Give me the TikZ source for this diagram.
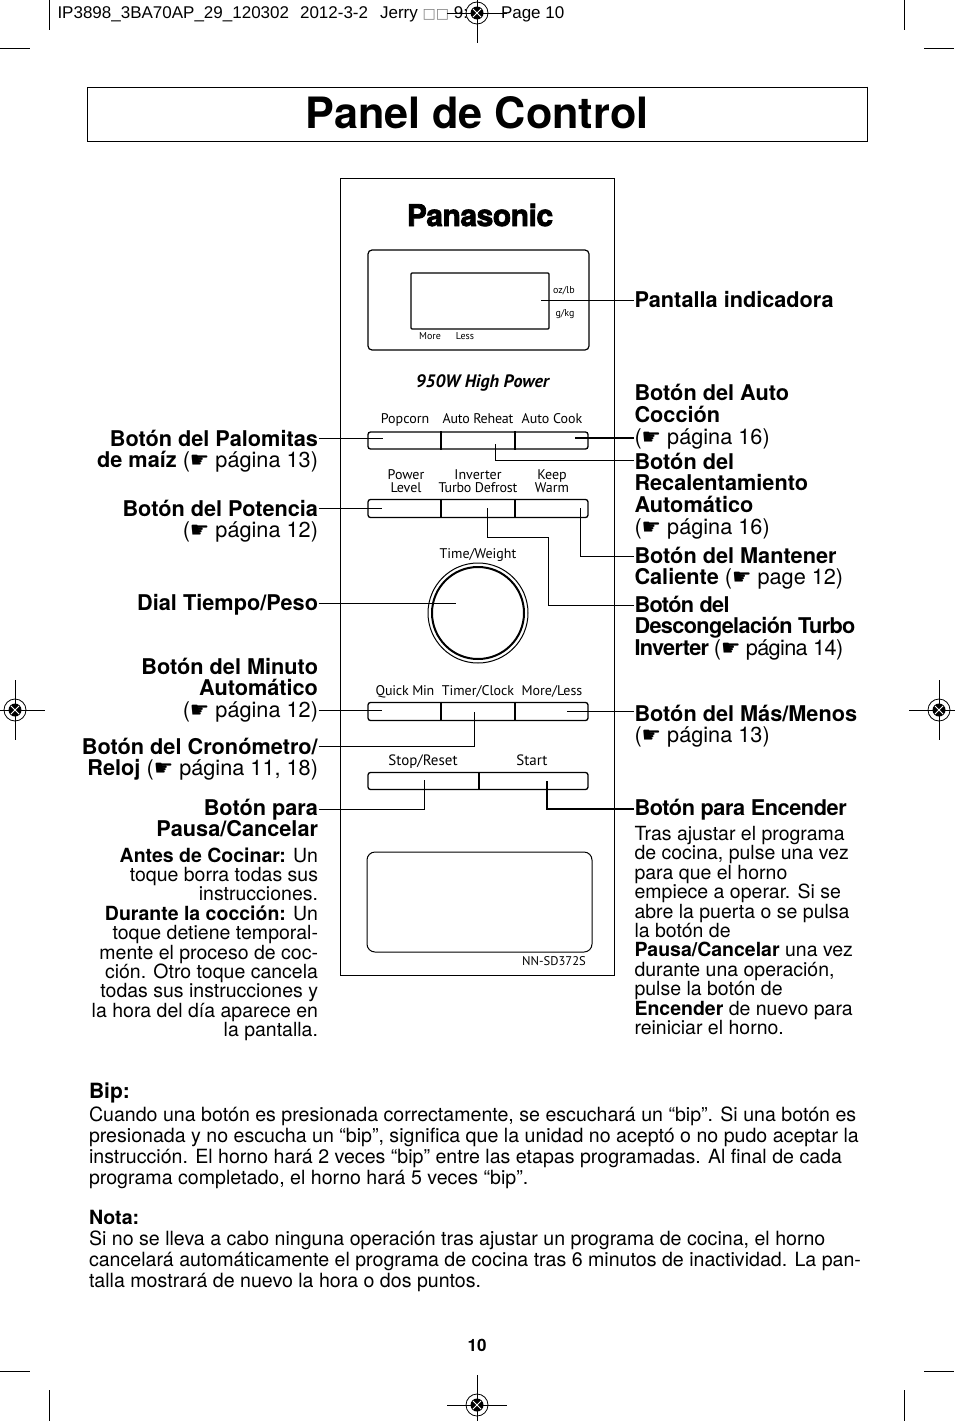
\documentclass[tikz,border=0pt]{standalone}
\usepackage{fontspec}
\setmainfont{TeX Gyre Heros}
\newfontfamily\symfont{DejaVu Sans}
\newfontfamily\panelfont{PT Sans}
\newfontfamily\headfont{Liberation Sans}
\newcommand{\hand}{{\symfont ☛}}
\newcommand{\tightfont}{\addfontfeature{LetterSpace=-2}}
\newcommand{\tighterfont}{\addfontfeature{LetterSpace=-3}}
\newcommand{\slimfont}{\addfontfeature{LetterSpace=-1.5}}
\tikzset{
 regmark/.pic={
  \draw[line width=.8pt] (-30,0)--(30,0) (0,-30)--(0,30);
  \draw[line width=.8pt] (0,0) circle (11);
  \fill (0,0) circle (6.5);
  \draw[white,line width=1pt] (-4,-4)--(4,4) (-4,4)--(4,-4);
 }}
\begin{document}
\begin{tikzpicture}[x=1pt,y=-1pt,line width=1pt,
 lblright/.style={anchor=base west,inner sep=0pt,align=left,font=\fontsize{21.7}{21.7}\selectfont},
 lblleft/.style={anchor=base east,inner sep=0pt,align=right,font=\fontsize{21.7}{21.7}\selectfont},
 bodyright/.style={anchor=base west,inner sep=0pt,align=left,font=\fontsize{19.5}{19.4}\selectfont},
 bodyleft/.style={anchor=base east,inner sep=0pt,align=right,font=\fontsize{19.5}{19.4}\selectfont},
 note/.style={anchor=base west,inner sep=0pt,align=left,font=\fontsize{19.6}{21}\selectfont},
 paneltxt/.style={inner sep=0pt,align=center,font=\panelfont\fontsize{14}{13}\selectfont},
 smalltxt/.style={inner sep=0pt,font=\panelfont\fontsize{10}{10}\selectfont},
 btnrow/.style={draw,rounded corners=2.5pt,line width=1.3pt,minimum width=220pt,inner sep=0pt},
 divider/.style={line width=2pt},
 lead/.style={line width=1pt},
 leadthick/.style={line width=1.6pt}]
\useasboundingbox (0,0) rectangle (954,1421);
% crop marks
\draw (49,0)--(49,30) (0,49)--(30,49) (904,0)--(904,30) (924,49)--(954,49);
\draw (49,1390)--(49,1421) (0,1371)--(30,1371) (904,1390)--(904,1421) (924,1371)--(954,1371);
\node[anchor=base west,inner sep=0pt,font=\headfont\fontsize{17}{17}\selectfont] (slug) at (57,19)
 {IP3898\_3BA70AP\_29\_120302\hspace{11pt}2012-3-2\hspace{12pt}Jerry {\color{gray}\symfont\fontsize{14}{14}\selectfont □□} 9:\hspace{33pt}Page 10};
\pic at (477,13) {regmark};
\pic at (477,1405) {regmark};
\pic at (15,710) {regmark};
\pic at (939,710) {regmark};
% title
\node[draw,inner sep=0pt,minimum width=780pt,minimum height=54pt,text depth=4pt,font=\bfseries\fontsize{43.2}{44}\selectfont] (title) at (477,114) {Panel de Control};
\draw[line width=1.6pt] (title.north east)--(title.south east);
% panel
\node[draw,inner sep=0pt,minimum width=274pt,minimum height=797pt] (panel) at (477,576.5) {};
\node[inner sep=0pt,font=\bfseries\fontsize{30}{30}\selectfont\addfontfeature{FakeBold=2.5,LetterSpace=-1.5}] (brand) at (480,215) {Panasonic};
\node[draw,rounded corners=4pt,line width=1.2pt,inner sep=0pt,minimum width=221pt,minimum height=100pt] (dispbox) at (478.5,300) {};
\node[draw,rounded corners=1pt,line width=1.2pt,inner sep=0pt,minimum width=138pt,minimum height=56pt] (screen) at (480,301) {};
\node[smalltxt] (ozlb) at (564,290.5) {oz/lb};
\node[smalltxt] (gkg) at (565,313.5) {g/kg};
\node[smalltxt] (more) at (430,336.5) {More};
\node[smalltxt] (less) at (465,336.5) {Less};
\node[inner sep=0pt,font=\panelfont\bfseries\itshape\fontsize{18}{18}\selectfont] (power) at (482.5,382.5) {950W High Power};
% button rows
\node[btnrow,minimum height=17pt] (row1) at (478,440.5) {};
\draw[divider] (441,0 |- row1.north)--(441,0 |- row1.south) (515,0 |- row1.north)--(515,0 |- row1.south);
\node[paneltxt] (popcorn) at (405,419.5) {Popcorn};
\node[paneltxt] (reheat) at (478,419) {\slimfont Auto Reheat};
\node[paneltxt] (cook) at (552,419) {Auto Cook};
\node[btnrow,minimum height=18pt] (row2) at (478,508.5) {};
\draw[divider] (441,0 |- row2.north)--(441,0 |- row2.south) (515,0 |- row2.north)--(515,0 |- row2.south);
\node[paneltxt] (powerlevel) at (406,481.5) {Power\\Level};
\node[paneltxt] (defrost) at (478,481.5) {Inverter\\\slimfont Turbo Defrost};
\node[paneltxt] (keepwarm) at (552,481.5) {Keep\\Warm};
\node[paneltxt] (timeweight) at (478,554.5) {Time/Weight};
\node[draw,circle,inner sep=0pt,minimum size=100pt] (dialout) at (478,613) {};
\node[draw,circle,inner sep=0pt,line width=2pt,minimum size=92pt] (dial) at (478,613) {};
\node[btnrow,minimum height=18pt] (row3) at (478,711.5) {};
\draw[divider] (441,0 |- row3.north)--(441,0 |- row3.south) (515,0 |- row3.north)--(515,0 |- row3.south);
\node[paneltxt] (quickmin) at (405,691.5) {\slimfont Quick Min};
\node[paneltxt] (timerclock) at (478,691.5) {Timer/Clock};
\node[paneltxt] (moreless) at (552,691.5) {More/Less};
\node[btnrow,minimum height=17pt] (row4) at (478,781) {};
\draw[divider] (479,0 |- row4.north)--(479,0 |- row4.south);
\node[paneltxt,font=\panelfont\fontsize{15}{15}\selectfont] (stopreset) at (423,761.5) {Stop/Reset};
\node[paneltxt,font=\panelfont\fontsize{15}{15}\selectfont] (start) at (532,760) {Start};
\node[draw,rounded corners=8pt,inner sep=0pt,minimum width=225pt,minimum height=100pt] (door) at (479.5,902) {};
\node[inner sep=0pt,font=\panelfont\fontsize{12.6}{12}\selectfont] (model) at (554,961) {NN-SD372S};
% labels on the right
\node[lblright] (lblscreen) at (634,307) {\textbf{Pantalla indicadora}};
\node[lblright] (lblcook) at (634,444) {\textbf{Botón del Auto}\\\textbf{Cocción}\\(\hand{} página 16)};
\node[lblright] (lblheat) at (634,534.1) {\textbf{Botón del}\\\textbf{Recalentamiento}\\\textbf{Automático}\\(\hand{} página 16)};
\node[lblright] (lblwarm) at (634,584.7) {\textbf{Botón del Mantener}\\\textbf{Caliente} (\hand{} page 12)};
\node[lblright] (lblturbo) at (634,655.4) {\tighterfont\textbf{Botón del}\\\tighterfont\textbf{Descongelación Turbo}\\\tighterfont\textbf{Inverter} (\hand{} página 14)};
\node[lblright] (lblmore) at (634,742.7) {\textbf{Botón del Más/Menos}\\(\hand{} página 13)};
\node[lblright] (lblstart) at (634,815) {\tightfont\textbf{Botón para Encender}};
\node[bodyright] (txtstart) at (634,1034.5) {Tras ajustar el programa\\de cocina, pulse una vez\\para que el horno\\empiece a operar. Si se\\abre la puerta o se pulsa\\la botón de\\\textbf{Pausa/Cancelar} una vez\\durante una operación,\\pulse la botón de\\\textbf{Encender} de nuevo para\\reiniciar el horno.};
% labels on the left
\node[lblleft] (lblpop) at (318.5,467.7) {\textbf{Botón del Palomitas}\\\textbf{de maíz} (\hand{} página 13)};
\node[lblleft] (lblpower) at (318.5,537.7) {\textbf{Botón del Potencia}\\(\hand{} página 12)};
\node[lblleft] (lbldial) at (318.5,610) {\textbf{Dial Tiempo/Peso}};
\node[lblleft] (lblquick) at (318.5,717.4) {\textbf{Botón del Minuto}\\\textbf{Automático}\\(\hand{} página 12)};
\node[lblleft] (lblclock) at (318.5,775.7) {\textbf{Botón del Cronómetro/}\\\textbf{Reloj} (\hand{} página 11, 18)};
\node[lblleft] (lblstop) at (318.5,836.7) {\textbf{Botón para}\\\textbf{Pausa/Cancelar}};
\node[bodyleft] (txtstop) at (318.5,1036.6) {\textbf{Antes de Cocinar:} Un\\toque borra todas sus\\instrucciones.\\\textbf{Durante la cocción:} Un\\toque detiene temporal-\\mente el proceso de coc-\\ción. Otro toque cancela\\todas sus instrucciones y\\la hora del día aparece en\\la pantalla.};
% notes
\node[note] (bipnote) at (88.5,1184) {{\bfseries\fontsize{21}{21}\selectfont Bip:}\\[2pt]Cuando una botón es presionada correctamente, se escuchará un “bip”. Si una botón es\\presionada y no escucha un “bip”, significa que la unidad no aceptó o no pudo aceptar la\\instrucción. El horno hará 2 veces “bip” entre las etapas programadas. Al final de cada\\programa completado, el horno hará 5 veces “bip”.};
\node[note] (notanote) at (88.5,1287.5) {\textbf{Nota:}\\Si no se lleva a cabo ninguna operación tras ajustar un programa de cocina, el horno\\cancelará automáticamente el programa de cocina tras 6 minutos de inactividad. La pan-\\talla mostrará de nuevo la hora o dos puntos.};
\node[inner sep=0pt,font=\bfseries\fontsize{17}{17}\selectfont] (pagenum) at (477,1345) {10};
% connector ends
\coordinate (ptscreen) at (541,300);
\coordinate (ptcook) at (575,438);
\coordinate (ptheat) at (495,444);
\coordinate (kneeheat) at (495,460);
\coordinate (ptwarm) at (580,508);
\coordinate (kneewarm) at (580,556);
\coordinate (ptturbo) at (487,508);
\coordinate (kneeturboa) at (487,537);
\coordinate (kneeturbob) at (548,537);
\coordinate (kneeturboc) at (548,605);
\coordinate (ptmore) at (567,711);
\coordinate (ptstart) at (547,781);
\coordinate (kneestart) at (547,809);
\coordinate (ptpop) at (383,438);
\coordinate (ptpower) at (382,508);
\coordinate (ptdial) at (456,603);
\coordinate (ptquick) at (382,710);
\coordinate (ptclock) at (474,712);
\coordinate (kneeclock) at (474,746);
\coordinate (ptstop) at (424,780);
\coordinate (kneestop) at (424,809);
% connectors
\draw[lead] (lblscreen.west |- ptscreen)--(ptscreen);
\draw[leadthick] (lblcook.west |- ptcook)--(ptcook);
\draw[lead] (lblheat.west |- kneeheat)--(kneeheat)--(ptheat);
\draw[lead] (lblwarm.west |- kneewarm)--(kneewarm)--(ptwarm);
\draw[lead] (lblturbo.west |- kneeturboc)--(kneeturboc)--(kneeturbob)--(kneeturboa)--(ptturbo);
\draw[lead] (lblmore.west |- ptmore)--(ptmore);
\draw[leadthick] (lblstart.west |- kneestart)--(kneestart)--(ptstart);
\draw[lead] (lblpop.east |- ptpop)--(ptpop);
\draw[lead] (lblpower.east |- ptpower)--(ptpower);
\draw[lead] (lbldial.east |- ptdial)--(ptdial);
\draw[lead] (lblquick.east |- ptquick)--(ptquick);
\draw[lead] (lblclock.east |- kneeclock)--(kneeclock)--(ptclock);
\draw[lead] (lblstop.east |- kneestop)--(kneestop)--(ptstop);
\end{tikzpicture}
\end{document}
